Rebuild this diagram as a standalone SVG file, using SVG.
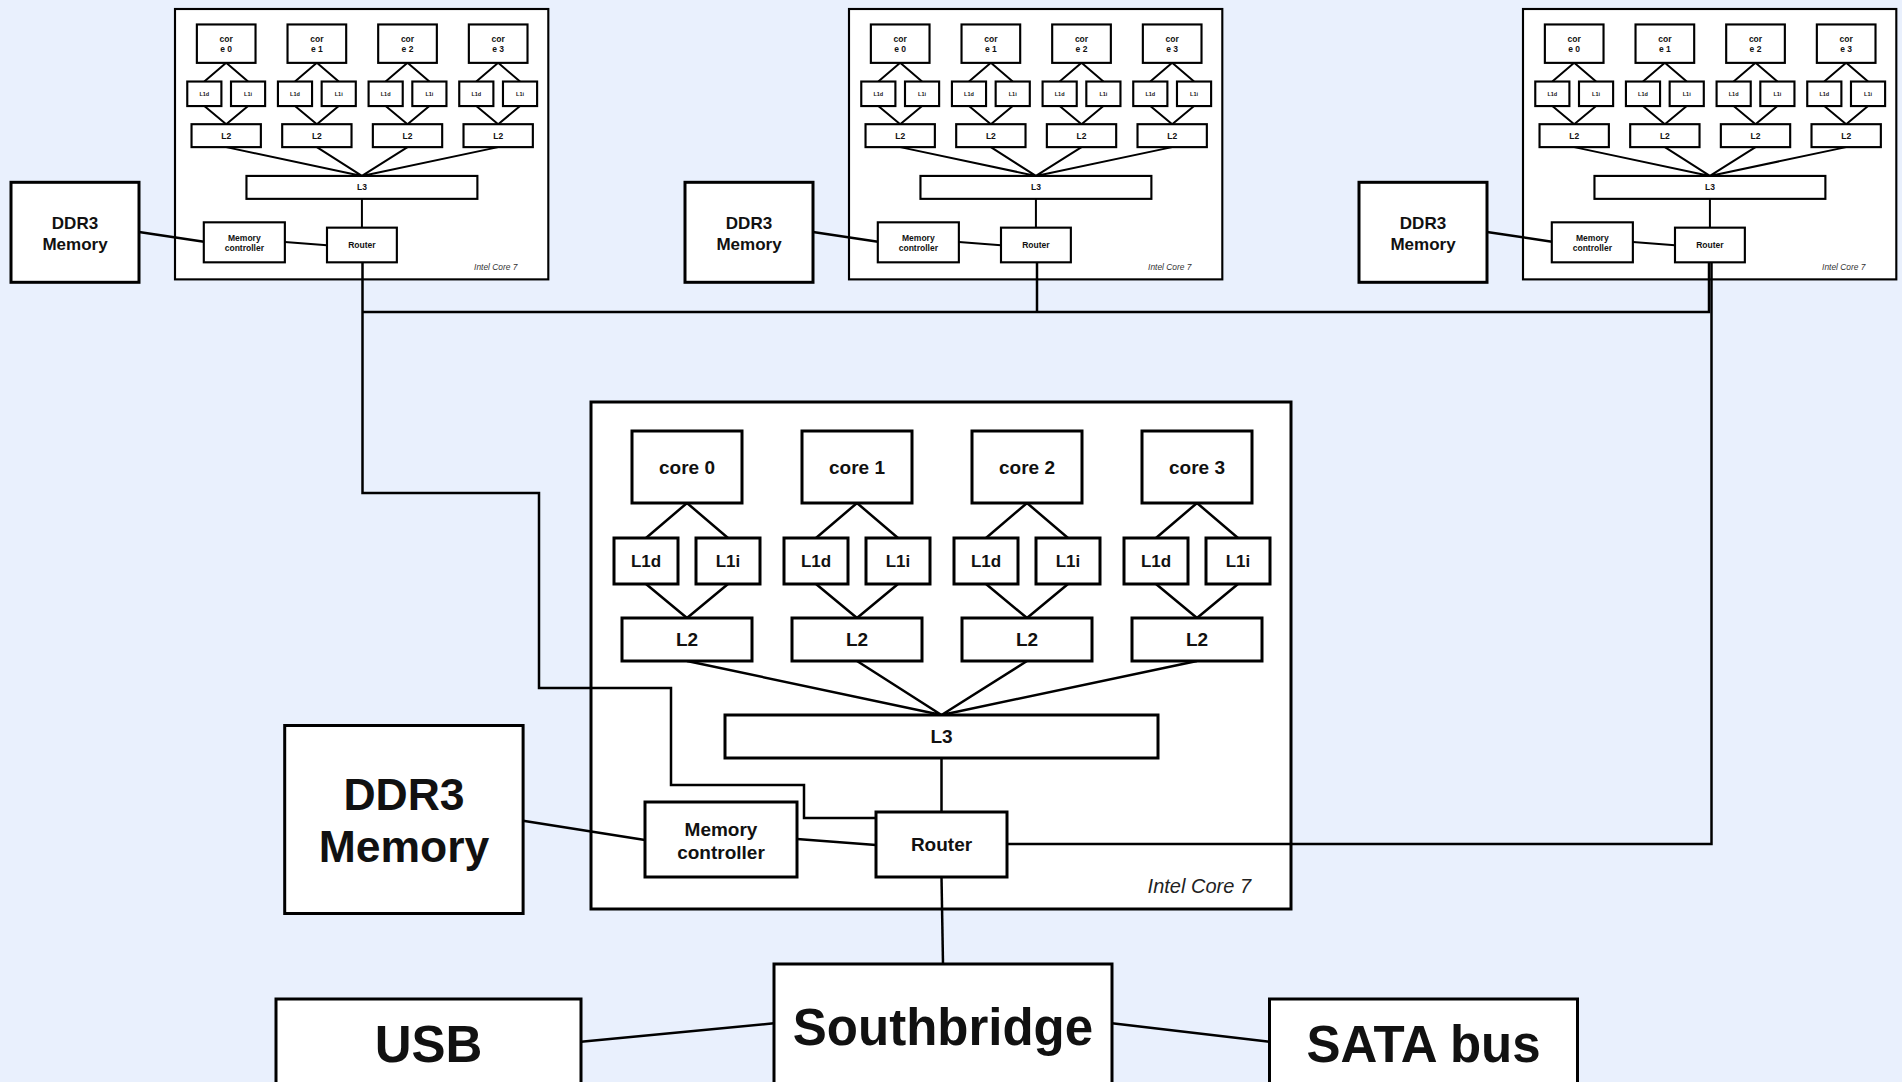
<svg xmlns="http://www.w3.org/2000/svg" width="1902" height="1082" viewBox="0 0 1902 1082">
  <style>
    .bg { fill: #e9f0fd; }
    .box { fill: #ffffff; stroke: #000000; stroke-width: 3; }
    .ln { fill: none; stroke: #000000; stroke-width: 2.5; }
    .t { font-family: "Liberation Sans", Arial, Helvetica, sans-serif; font-weight: bold; text-anchor: middle; fill: #111111; }
    .it { font-family: "Liberation Sans", Arial, Helvetica, sans-serif; font-style: italic; text-anchor: end; fill: #222222; }
    .big .t { font-size: 19px; }
    .big .l1 { font-size: 17px; }
    .big .it { font-size: 20px; }
    .sm .box { stroke-width: 4; }
    .sm .ln { stroke-width: 3.75; }
    .sm .t { font-size: 16px; }
    .sm .l1 { font-size: 10.3px; }
    .sm .it { font-size: 15.75px; fill: #333333; }
    .ext .t { font-size: 17px; }
    .ext .io { font-size: 51px; }
  </style>

  <rect class="bg" x="0" y="0" width="1902" height="1082"/>

  <!-- processor 1 (small, top left) -->
  <g id="chip1" class="sm" transform="translate(175,9) scale(0.5333)">
    <g id="chip1-die"><rect class="box" x="0" y="0" width="700" height="507"/><text class="it" x="642" y="490">Intel Core 7</text></g>
    <g id="chip1-links">
      <path class="ln" d="M96 101 L55 136 M96 101 L137 136 M55 182 L96 216 M137 182 L96 216
                          M266 101 L225 136 M266 101 L307 136 M225 182 L266 216 M307 182 L266 216
                          M436 101 L395 136 M436 101 L477 136 M395 182 L436 216 M477 182 L436 216
                          M606 101 L565 136 M606 101 L647 136 M565 182 L606 216 M647 182 L606 216
                          M96 259 L350.5 313 M266 259 L350.5 313 M436 259 L350.5 313 M606 259 L350.5 313
                          M350.5 356 L350.5 410 M206 437 L285 443"/>
    </g>
    <g id="chip1-core0"><rect class="box" x="41" y="29" width="110" height="72"/><text class="t" x="96" y="62.4">cor</text><text class="t" x="96" y="81.2">e 0</text></g>
    <g id="chip1-core1"><rect class="box" x="211" y="29" width="110" height="72"/><text class="t" x="266" y="62.4">cor</text><text class="t" x="266" y="81.2">e 1</text></g>
    <g id="chip1-core2"><rect class="box" x="381" y="29" width="110" height="72"/><text class="t" x="436" y="62.4">cor</text><text class="t" x="436" y="81.2">e 2</text></g>
    <g id="chip1-core3"><rect class="box" x="551" y="29" width="110" height="72"/><text class="t" x="606" y="62.4">cor</text><text class="t" x="606" y="81.2">e 3</text></g>
    <g id="chip1-l1d0"><rect class="box" x="23" y="136" width="64" height="46"/><text class="t l1" x="55" y="162.7">L1d</text></g>
    <g id="chip1-l1i0"><rect class="box" x="105" y="136" width="64" height="46"/><text class="t l1" x="137" y="162.7">L1i</text></g>
    <g id="chip1-l1d1"><rect class="box" x="193" y="136" width="64" height="46"/><text class="t l1" x="225" y="162.7">L1d</text></g>
    <g id="chip1-l1i1"><rect class="box" x="275" y="136" width="64" height="46"/><text class="t l1" x="307" y="162.7">L1i</text></g>
    <g id="chip1-l1d2"><rect class="box" x="363" y="136" width="64" height="46"/><text class="t l1" x="395" y="162.7">L1d</text></g>
    <g id="chip1-l1i2"><rect class="box" x="445" y="136" width="64" height="46"/><text class="t l1" x="477" y="162.7">L1i</text></g>
    <g id="chip1-l1d3"><rect class="box" x="533" y="136" width="64" height="46"/><text class="t l1" x="565" y="162.7">L1d</text></g>
    <g id="chip1-l1i3"><rect class="box" x="615" y="136" width="64" height="46"/><text class="t l1" x="647" y="162.7">L1i</text></g>
    <g id="chip1-l2-0"><rect class="box" x="31" y="216" width="130" height="43"/><text class="t" x="96" y="243.2">L2</text></g>
    <g id="chip1-l2-1"><rect class="box" x="201" y="216" width="130" height="43"/><text class="t" x="266" y="243.2">L2</text></g>
    <g id="chip1-l2-2"><rect class="box" x="371" y="216" width="130" height="43"/><text class="t" x="436" y="243.2">L2</text></g>
    <g id="chip1-l2-3"><rect class="box" x="541" y="216" width="130" height="43"/><text class="t" x="606" y="243.2">L2</text></g>
    <g id="chip1-l3"><rect class="box" x="134" y="313" width="433" height="43"/><text class="t" x="350.5" y="340.2">L3</text></g>
    <g id="chip1-memctl"><rect class="box" x="54" y="400" width="152" height="75"/><text class="t" x="130" y="435.7">Memory</text><text class="t" x="130" y="454.4">controller</text></g>
    <g id="chip1-router"><rect class="box" x="285" y="410" width="131" height="65"/><text class="t" x="350.5" y="448.2">Router</text></g>
  </g>

  <!-- processor 2 (small, top middle) -->
  <g id="chip2" class="sm" transform="translate(849,9) scale(0.5333)">
    <g id="chip2-die"><rect class="box" x="0" y="0" width="700" height="507"/><text class="it" x="642" y="490">Intel Core 7</text></g>
    <g id="chip2-links">
      <path class="ln" d="M96 101 L55 136 M96 101 L137 136 M55 182 L96 216 M137 182 L96 216
                          M266 101 L225 136 M266 101 L307 136 M225 182 L266 216 M307 182 L266 216
                          M436 101 L395 136 M436 101 L477 136 M395 182 L436 216 M477 182 L436 216
                          M606 101 L565 136 M606 101 L647 136 M565 182 L606 216 M647 182 L606 216
                          M96 259 L350.5 313 M266 259 L350.5 313 M436 259 L350.5 313 M606 259 L350.5 313
                          M350.5 356 L350.5 410 M206 437 L285 443"/>
    </g>
    <g id="chip2-core0"><rect class="box" x="41" y="29" width="110" height="72"/><text class="t" x="96" y="62.4">cor</text><text class="t" x="96" y="81.2">e 0</text></g>
    <g id="chip2-core1"><rect class="box" x="211" y="29" width="110" height="72"/><text class="t" x="266" y="62.4">cor</text><text class="t" x="266" y="81.2">e 1</text></g>
    <g id="chip2-core2"><rect class="box" x="381" y="29" width="110" height="72"/><text class="t" x="436" y="62.4">cor</text><text class="t" x="436" y="81.2">e 2</text></g>
    <g id="chip2-core3"><rect class="box" x="551" y="29" width="110" height="72"/><text class="t" x="606" y="62.4">cor</text><text class="t" x="606" y="81.2">e 3</text></g>
    <g id="chip2-l1d0"><rect class="box" x="23" y="136" width="64" height="46"/><text class="t l1" x="55" y="162.7">L1d</text></g>
    <g id="chip2-l1i0"><rect class="box" x="105" y="136" width="64" height="46"/><text class="t l1" x="137" y="162.7">L1i</text></g>
    <g id="chip2-l1d1"><rect class="box" x="193" y="136" width="64" height="46"/><text class="t l1" x="225" y="162.7">L1d</text></g>
    <g id="chip2-l1i1"><rect class="box" x="275" y="136" width="64" height="46"/><text class="t l1" x="307" y="162.7">L1i</text></g>
    <g id="chip2-l1d2"><rect class="box" x="363" y="136" width="64" height="46"/><text class="t l1" x="395" y="162.7">L1d</text></g>
    <g id="chip2-l1i2"><rect class="box" x="445" y="136" width="64" height="46"/><text class="t l1" x="477" y="162.7">L1i</text></g>
    <g id="chip2-l1d3"><rect class="box" x="533" y="136" width="64" height="46"/><text class="t l1" x="565" y="162.7">L1d</text></g>
    <g id="chip2-l1i3"><rect class="box" x="615" y="136" width="64" height="46"/><text class="t l1" x="647" y="162.7">L1i</text></g>
    <g id="chip2-l2-0"><rect class="box" x="31" y="216" width="130" height="43"/><text class="t" x="96" y="243.2">L2</text></g>
    <g id="chip2-l2-1"><rect class="box" x="201" y="216" width="130" height="43"/><text class="t" x="266" y="243.2">L2</text></g>
    <g id="chip2-l2-2"><rect class="box" x="371" y="216" width="130" height="43"/><text class="t" x="436" y="243.2">L2</text></g>
    <g id="chip2-l2-3"><rect class="box" x="541" y="216" width="130" height="43"/><text class="t" x="606" y="243.2">L2</text></g>
    <g id="chip2-l3"><rect class="box" x="134" y="313" width="433" height="43"/><text class="t" x="350.5" y="340.2">L3</text></g>
    <g id="chip2-memctl"><rect class="box" x="54" y="400" width="152" height="75"/><text class="t" x="130" y="435.7">Memory</text><text class="t" x="130" y="454.4">controller</text></g>
    <g id="chip2-router"><rect class="box" x="285" y="410" width="131" height="65"/><text class="t" x="350.5" y="448.2">Router</text></g>
  </g>

  <!-- processor 3 (small, top right) -->
  <g id="chip3" class="sm" transform="translate(1523,9) scale(0.5333)">
    <g id="chip3-die"><rect class="box" x="0" y="0" width="700" height="507"/><text class="it" x="642" y="490">Intel Core 7</text></g>
    <g id="chip3-links">
      <path class="ln" d="M96 101 L55 136 M96 101 L137 136 M55 182 L96 216 M137 182 L96 216
                          M266 101 L225 136 M266 101 L307 136 M225 182 L266 216 M307 182 L266 216
                          M436 101 L395 136 M436 101 L477 136 M395 182 L436 216 M477 182 L436 216
                          M606 101 L565 136 M606 101 L647 136 M565 182 L606 216 M647 182 L606 216
                          M96 259 L350.5 313 M266 259 L350.5 313 M436 259 L350.5 313 M606 259 L350.5 313
                          M350.5 356 L350.5 410 M206 437 L285 443"/>
    </g>
    <g id="chip3-core0"><rect class="box" x="41" y="29" width="110" height="72"/><text class="t" x="96" y="62.4">cor</text><text class="t" x="96" y="81.2">e 0</text></g>
    <g id="chip3-core1"><rect class="box" x="211" y="29" width="110" height="72"/><text class="t" x="266" y="62.4">cor</text><text class="t" x="266" y="81.2">e 1</text></g>
    <g id="chip3-core2"><rect class="box" x="381" y="29" width="110" height="72"/><text class="t" x="436" y="62.4">cor</text><text class="t" x="436" y="81.2">e 2</text></g>
    <g id="chip3-core3"><rect class="box" x="551" y="29" width="110" height="72"/><text class="t" x="606" y="62.4">cor</text><text class="t" x="606" y="81.2">e 3</text></g>
    <g id="chip3-l1d0"><rect class="box" x="23" y="136" width="64" height="46"/><text class="t l1" x="55" y="162.7">L1d</text></g>
    <g id="chip3-l1i0"><rect class="box" x="105" y="136" width="64" height="46"/><text class="t l1" x="137" y="162.7">L1i</text></g>
    <g id="chip3-l1d1"><rect class="box" x="193" y="136" width="64" height="46"/><text class="t l1" x="225" y="162.7">L1d</text></g>
    <g id="chip3-l1i1"><rect class="box" x="275" y="136" width="64" height="46"/><text class="t l1" x="307" y="162.7">L1i</text></g>
    <g id="chip3-l1d2"><rect class="box" x="363" y="136" width="64" height="46"/><text class="t l1" x="395" y="162.7">L1d</text></g>
    <g id="chip3-l1i2"><rect class="box" x="445" y="136" width="64" height="46"/><text class="t l1" x="477" y="162.7">L1i</text></g>
    <g id="chip3-l1d3"><rect class="box" x="533" y="136" width="64" height="46"/><text class="t l1" x="565" y="162.7">L1d</text></g>
    <g id="chip3-l1i3"><rect class="box" x="615" y="136" width="64" height="46"/><text class="t l1" x="647" y="162.7">L1i</text></g>
    <g id="chip3-l2-0"><rect class="box" x="31" y="216" width="130" height="43"/><text class="t" x="96" y="243.2">L2</text></g>
    <g id="chip3-l2-1"><rect class="box" x="201" y="216" width="130" height="43"/><text class="t" x="266" y="243.2">L2</text></g>
    <g id="chip3-l2-2"><rect class="box" x="371" y="216" width="130" height="43"/><text class="t" x="436" y="243.2">L2</text></g>
    <g id="chip3-l2-3"><rect class="box" x="541" y="216" width="130" height="43"/><text class="t" x="606" y="243.2">L2</text></g>
    <g id="chip3-l3"><rect class="box" x="134" y="313" width="433" height="43"/><text class="t" x="350.5" y="340.2">L3</text></g>
    <g id="chip3-memctl"><rect class="box" x="54" y="400" width="152" height="75"/><text class="t" x="130" y="435.7">Memory</text><text class="t" x="130" y="454.4">controller</text></g>
    <g id="chip3-router"><rect class="box" x="285" y="410" width="131" height="65"/><text class="t" x="350.5" y="448.2">Router</text></g>
  </g>

  <!-- processor 4 (large, centre) -->
  <g id="chip4" class="big" transform="translate(591,402)">
    <g id="chip4-die"><rect class="box" x="0" y="0" width="700" height="507"/><text class="it" x="660" y="491">Intel Core 7</text></g>
    <g id="chip4-links">
      <path class="ln" d="M96 101 L55 136 M96 101 L137 136 M55 182 L96 216 M137 182 L96 216
                          M266 101 L225 136 M266 101 L307 136 M225 182 L266 216 M307 182 L266 216
                          M436 101 L395 136 M436 101 L477 136 M395 182 L436 216 M477 182 L436 216
                          M606 101 L565 136 M606 101 L647 136 M565 182 L606 216 M647 182 L606 216
                          M96 259 L350.5 313 M266 259 L350.5 313 M436 259 L350.5 313 M606 259 L350.5 313
                          M350.5 356 L350.5 410 M206 437 L285 443"/>
    </g>
    <g id="chip4-core0"><rect class="box" x="41" y="29" width="110" height="72"/><text class="t" x="96" y="72">core 0</text></g>
    <g id="chip4-core1"><rect class="box" x="211" y="29" width="110" height="72"/><text class="t" x="266" y="72">core 1</text></g>
    <g id="chip4-core2"><rect class="box" x="381" y="29" width="110" height="72"/><text class="t" x="436" y="72">core 2</text></g>
    <g id="chip4-core3"><rect class="box" x="551" y="29" width="110" height="72"/><text class="t" x="606" y="72">core 3</text></g>
    <g id="chip4-l1d0"><rect class="box" x="23" y="136" width="64" height="46"/><text class="t l1" x="55" y="165">L1d</text></g>
    <g id="chip4-l1i0"><rect class="box" x="105" y="136" width="64" height="46"/><text class="t l1" x="137" y="165">L1i</text></g>
    <g id="chip4-l1d1"><rect class="box" x="193" y="136" width="64" height="46"/><text class="t l1" x="225" y="165">L1d</text></g>
    <g id="chip4-l1i1"><rect class="box" x="275" y="136" width="64" height="46"/><text class="t l1" x="307" y="165">L1i</text></g>
    <g id="chip4-l1d2"><rect class="box" x="363" y="136" width="64" height="46"/><text class="t l1" x="395" y="165">L1d</text></g>
    <g id="chip4-l1i2"><rect class="box" x="445" y="136" width="64" height="46"/><text class="t l1" x="477" y="165">L1i</text></g>
    <g id="chip4-l1d3"><rect class="box" x="533" y="136" width="64" height="46"/><text class="t l1" x="565" y="165">L1d</text></g>
    <g id="chip4-l1i3"><rect class="box" x="615" y="136" width="64" height="46"/><text class="t l1" x="647" y="165">L1i</text></g>
    <g id="chip4-l2-0"><rect class="box" x="31" y="216" width="130" height="43"/><text class="t" x="96" y="244.3">L2</text></g>
    <g id="chip4-l2-1"><rect class="box" x="201" y="216" width="130" height="43"/><text class="t" x="266" y="244.3">L2</text></g>
    <g id="chip4-l2-2"><rect class="box" x="371" y="216" width="130" height="43"/><text class="t" x="436" y="244.3">L2</text></g>
    <g id="chip4-l2-3"><rect class="box" x="541" y="216" width="130" height="43"/><text class="t" x="606" y="244.3">L2</text></g>
    <g id="chip4-l3"><rect class="box" x="134" y="313" width="433" height="43"/><text class="t" x="350.5" y="341.3">L3</text></g>
    <g id="chip4-memctl"><rect class="box" x="54" y="400" width="152" height="75"/><text class="t" x="130" y="434">Memory</text><text class="t" x="130" y="456.5">controller</text></g>
    <g id="chip4-router"><rect class="box" x="285" y="410" width="131" height="65"/><text class="t" x="350.5" y="449.3">Router</text></g>
  </g>

  <!-- connectors between the nodes -->
  <g id="connectors">
    <path class="ln" stroke-width="2.5" d="M139 232 L204 241.7"/>
    <path class="ln" stroke-width="2.5" d="M813 232 L878 241.7"/>
    <path class="ln" stroke-width="2.5" d="M1487 232 L1552 241.7"/>
    <path class="ln" d="M1709 262 V312 H362.5"/>
    <path class="ln" d="M1037 262 V312"/>
    <path class="ln" d="M362.5 262 V493 H539 V688 H671 V785 H804 V818 H876"/>
    <path class="ln" d="M1007 844 H1711.5 V262"/>
    <path class="ln" stroke-width="3" d="M523 820.7 L645 840"/>
    <path class="ln" d="M941.5 877 L943 964"/>
    <path class="ln" stroke-width="3" d="M581 1041.7 L774 1023.3"/>
    <path class="ln" stroke-width="3" d="M1112 1023.3 L1269.5 1041.7"/>
  </g>

  <!-- memory modules and I/O -->
  <g class="ext">
    <g id="ddr3-1"><rect class="box" x="11" y="182.3" width="128" height="100"/><text class="t" x="75" y="229.4">DDR3</text><text class="t" x="75" y="249.5">Memory</text></g>
    <g id="ddr3-2"><rect class="box" x="685" y="182.3" width="128" height="100"/><text class="t" x="749" y="229.4">DDR3</text><text class="t" x="749" y="249.5">Memory</text></g>
    <g id="ddr3-3"><rect class="box" x="1359" y="182.3" width="128" height="100"/><text class="t" x="1423" y="229.4">DDR3</text><text class="t" x="1423" y="249.5">Memory</text></g>
    <g id="ddr3-4"><rect class="box" x="284.7" y="725.5" width="238.4" height="188"/><text class="t" x="404" y="810" style="font-size:44.5px">DDR3</text><text class="t" x="404" y="862" style="font-size:44.5px">Memory</text></g>
    <g id="southbridge"><rect class="box" x="774" y="964" width="338" height="140"/><text class="t io" x="943" y="1045">Southbridge</text></g>
    <g id="usb"><rect class="box" x="276" y="999" width="305" height="105"/><text class="t io" x="428.5" y="1062">USB</text></g>
    <g id="sata"><rect class="box" x="1269.5" y="999" width="308" height="105"/><text class="t io" x="1423.5" y="1062">SATA bus</text></g>
  </g>
</svg>
